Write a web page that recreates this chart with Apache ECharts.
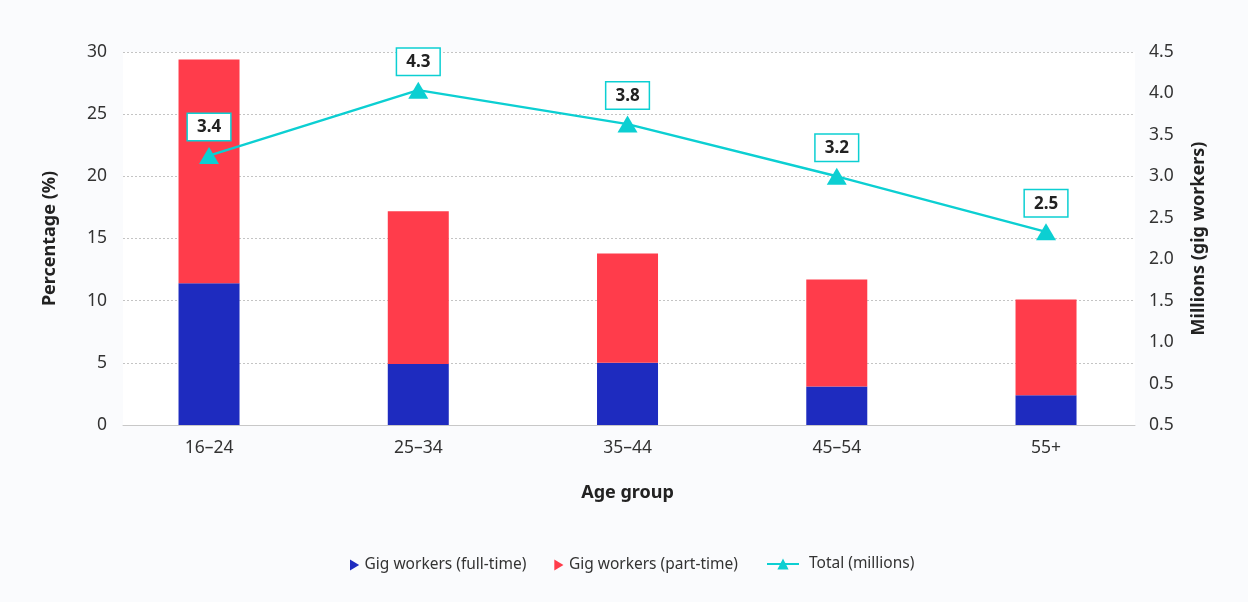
<!DOCTYPE html>
<html>
<head>
<meta charset="utf-8">
<script src="https://cdn.jsdelivr.net/npm/echarts@6/dist/echarts.min.js"></script>
<style>
html,body{margin:0;padding:0;background:#fafbfd;}
#c{width:1248px;height:602px;}
</style>
</head>
<body>
<div id="c"></div>
<script>
var categories = ['16–24', '25–34', '35–44', '45–54', '55+'];
var fullTime = [11.4, 4.9, 5.0, 3.1, 2.4];
var partTime = [18.0, 12.3, 8.8, 8.6, 7.7];
var totalMillions = [3.25, 4.04, 3.63, 3.0, 2.33];
var totalLabels = ['3.4', '4.3', '3.8', '3.2', '2.5'];
var leftTicks = [0, 5, 10, 15, 20, 25, 30];
var rightTickLabels = ['0.5', '0.5', '1.0', '1.5', '2.0', '2.5', '3.0', '3.5', '4.0', '4.5'];

var BLUE = '#1E2BBF', RED = '#FF3C4B', CYAN = '#0CCFD2';
var FONT = 'Noto Sans';
var NAME_STYLE = {fontFamily: FONT, fontSize: 18, fontWeight: 'bold', color: '#222'};

var chart = echarts.init(document.getElementById('c'), null, {renderer: 'canvas'});
chart.setOption({
  backgroundColor: '#fafbfd',
  textStyle: {fontFamily: FONT},
  animation: false,
  grid: [
    {left: 123, right: 113, top: 52, bottom: 177, show: true, backgroundColor: '#ffffff', borderWidth: 0},
    {left: 104.4, right: 97.35, top: 52, bottom: 177}
  ],
  legend: [{
    left: 350, top: 557, padding: 0, itemWidth: 10, itemHeight: 11, itemGap: 28,
    textStyle: {fontFamily: FONT, fontSize: 15.5, color: '#333'},
    data: [
      {name: 'Gig workers (full-time)', icon: 'path://M0,0 L10,6 L0,12 Z', itemStyle: {color: BLUE}},
      {name: 'Gig workers (part-time)', icon: 'path://M0,0 L10,6 L0,12 Z', itemStyle: {color: RED}}
    ]
  }, {
    left: 766, top: 556, padding: 0, itemWidth: 32, itemHeight: 14,
    textStyle: {fontFamily: FONT, fontSize: 15.5, color: '#333', padding: [0, 0, 0, 5]},
    data: ['Total (millions)']
  }],
  xAxis: [{
    gridIndex: 0, type: 'value', min: 0, max: 1,
    axisLine: {show: true, lineStyle: {color: '#c8c8c8', width: 1}},
    axisTick: {show: false}, axisLabel: {show: false}, splitLine: {show: false}
  }, {
    gridIndex: 1, type: 'category', data: categories, boundaryGap: true,
    name: 'Age group', nameLocation: 'middle', nameGap: 59, nameTextStyle: NAME_STYLE,
    axisLine: {show: false}, axisTick: {show: false}, splitLine: {show: false},
    axisLabel: {fontFamily: FONT, fontSize: 17.5, color: '#333', margin: 14}
  }],
  yAxis: [{
    gridIndex: 0, type: 'value', min: leftTicks[0], max: leftTicks[leftTicks.length - 1], interval: 5,
    name: 'Percentage (%)', nameLocation: 'middle', nameGap: 64, nameTextStyle: NAME_STYLE,
    axisLine: {show: false}, axisTick: {show: false},
    axisLabel: {fontFamily: FONT, fontSize: 17.5, color: '#333', margin: 16},
    splitLine: {show: true, lineStyle: {color: '#c4c4c4', type: [2, 2], width: 1}}
  }, {
    gridIndex: 0, type: 'value', min: 0, max: 4.5, interval: 0.5, position: 'right',
    name: 'Millions (gig workers)', nameLocation: 'middle', nameGap: 55, nameTextStyle: NAME_STYLE,
    axisLine: {show: false}, axisTick: {show: false},
    axisLabel: {
      fontFamily: FONT, fontSize: 17.5, color: '#333', margin: 14,
      formatter: function (v) { return rightTickLabels[Math.round(v / 0.5)]; }
    },
    splitLine: {show: false}
  }, {
    gridIndex: 1, type: 'value', min: leftTicks[0], max: leftTicks[leftTicks.length - 1], show: false
  }, {
    gridIndex: 1, type: 'value', min: 0, max: 4.5, show: false
  }],
  series: [{
    name: 'Gig workers (full-time)', type: 'bar', stack: 'g', barWidth: 61,
    xAxisIndex: 1, yAxisIndex: 2,
    itemStyle: {color: BLUE},
    data: fullTime
  }, {
    name: 'Gig workers (part-time)', type: 'bar', stack: 'g', barWidth: 61,
    xAxisIndex: 1, yAxisIndex: 2,
    itemStyle: {color: RED},
    data: partTime
  }, {
    name: 'Total (millions)', type: 'line',
    xAxisIndex: 1, yAxisIndex: 3,
    symbol: 'triangle', symbolSize: [20, 17],
    itemStyle: {color: CYAN},
    lineStyle: {color: CYAN, width: 2.5},
    label: {
      show: true, position: 'top', distance: 7,
      formatter: function (p) { return totalLabels[p.dataIndex]; },
      fontFamily: FONT, fontSize: 17, fontWeight: 'bold', color: '#222',
      backgroundColor: '#ffffff', borderColor: CYAN, borderWidth: 1.5,
      padding: [5, 9, 4, 9]
    },
    data: totalMillions
  }]
});
</script>
</body>
</html>
